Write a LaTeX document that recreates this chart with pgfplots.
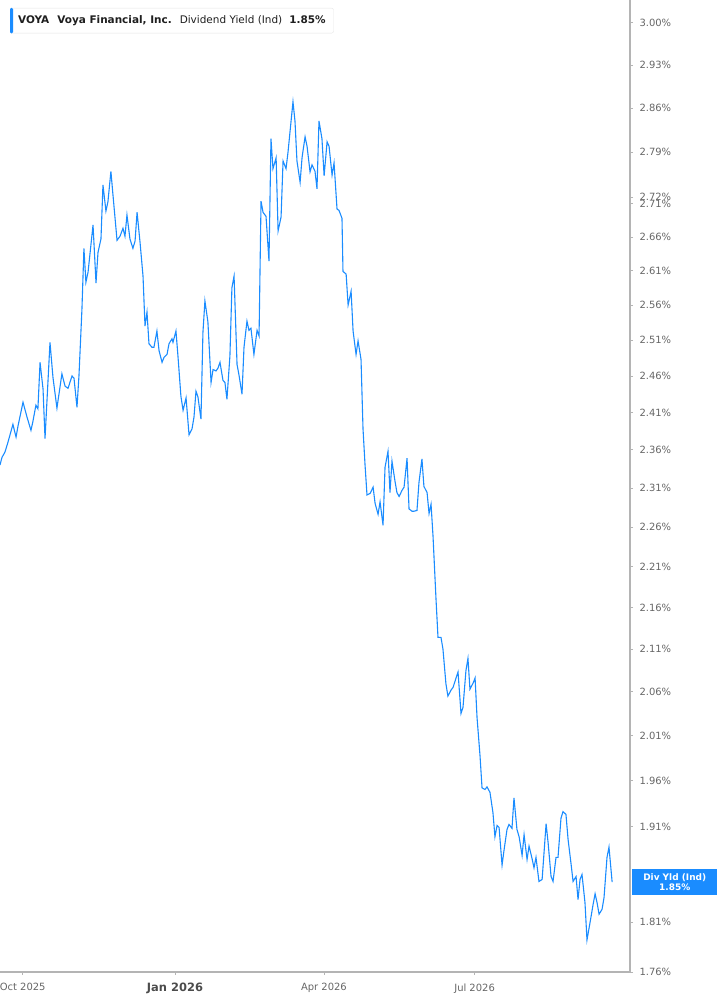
\documentclass[border=0pt]{standalone}
\usepackage{fontspec}
\setmainfont{DejaVu Sans}
\usepackage{pgfplots}
\usepackage{pgfplotstable}
\pgfplotsset{compat=1.18}

\definecolor{lineblue}{HTML}{1A8CFF}
\definecolor{axisgray}{HTML}{B4B4B4}
\definecolor{labgray}{HTML}{666666}

% x = days since 1 Oct 2025, y = dividend yield in %
\pgfplotstableread{
d y
-13.7 2.340
-12.5 2.350
-10.7 2.357
-8.9 2.370
-5.9 2.394
-4.0 2.377
-2.8 2.392
0.2 2.424
2.6 2.404
5.0 2.386
6.1 2.397
8.0 2.420
9.2 2.415
10.5 2.479
12.3 2.442
13.5 2.375
16.5 2.507
18.3 2.458
20.7 2.416
23.7 2.463
25.6 2.446
27.4 2.443
29.8 2.460
31.0 2.457
32.8 2.417
34.0 2.460
35.8 2.554
37.0 2.643
38.2 2.593
39.5 2.608
42.5 2.678
44.3 2.592
45.5 2.637
47.3 2.657
48.5 2.739
50.3 2.699
51.5 2.713
53.3 2.760
54.6 2.722
57.0 2.655
58.8 2.661
60.6 2.673
61.8 2.661
63.0 2.693
64.8 2.657
66.6 2.643
67.9 2.654
69.1 2.697
70.9 2.652
72.7 2.602
73.9 2.530
75.1 2.550
76.3 2.505
78.1 2.500
79.3 2.500
81.1 2.523
82.4 2.495
84.2 2.479
85.4 2.486
87.2 2.490
88.4 2.505
90.2 2.512
90.8 2.507
92.6 2.523
93.8 2.488
95.6 2.432
96.9 2.413
98.7 2.430
100.5 2.380
102.3 2.388
103.5 2.404
104.7 2.439
105.9 2.431
107.7 2.401
108.9 2.521
110.1 2.566
111.9 2.536
113.8 2.451
115.0 2.469
116.8 2.467
118.0 2.471
119.2 2.479
121.0 2.454
122.2 2.451
123.4 2.428
125.2 2.488
126.4 2.585
127.7 2.602
129.5 2.476
130.7 2.461
132.5 2.435
133.7 2.500
135.5 2.537
136.7 2.524
137.9 2.527
139.7 2.490
141.6 2.524
142.8 2.516
144.0 2.714
145.2 2.697
147.0 2.691
148.8 2.624
150.0 2.811
151.2 2.764
153.1 2.781
154.3 2.669
156.1 2.690
157.3 2.776
159.1 2.764
160.3 2.790
162.1 2.838
163.3 2.870
164.5 2.839
165.7 2.776
167.6 2.743
168.8 2.782
170.6 2.814
171.8 2.799
173.6 2.759
174.8 2.770
176.6 2.760
177.8 2.733
179.0 2.839
180.8 2.811
182.1 2.753
183.9 2.806
185.1 2.799
186.9 2.754
188.1 2.773
189.9 2.702
191.1 2.700
192.9 2.688
193.5 2.609
195.4 2.605
196.6 2.560
198.4 2.580
199.6 2.523
201.4 2.490
202.6 2.509
204.4 2.483
205.6 2.388
206.8 2.341
208.0 2.301
209.9 2.303
211.7 2.311
212.9 2.290
214.7 2.276
215.9 2.292
217.7 2.262
218.9 2.337
220.7 2.358
221.9 2.304
223.1 2.345
224.9 2.319
226.1 2.304
227.4 2.299
229.2 2.307
230.4 2.311
232.2 2.349
233.4 2.283
235.2 2.280
236.4 2.280
238.2 2.281
239.4 2.317
241.2 2.348
242.4 2.312
244.3 2.304
245.5 2.277
246.7 2.289
247.9 2.248
249.7 2.170
250.9 2.124
252.7 2.124
253.9 2.110
255.7 2.069
256.9 2.055
258.8 2.062
260.0 2.065
261.8 2.076
263.0 2.083
264.8 2.035
266.0 2.042
267.8 2.085
269.0 2.099
270.2 2.063
272.1 2.070
273.3 2.076
274.5 2.030
276.3 1.987
277.5 1.952
279.3 1.950
280.5 1.953
282.3 1.947
284.1 1.925
285.3 1.899
286.6 1.911
287.8 1.909
289.6 1.869
290.8 1.885
292.6 1.907
293.8 1.912
295.6 1.908
296.8 1.941
298.6 1.907
299.9 1.899
301.7 1.879
302.9 1.901
304.7 1.875
305.9 1.889
307.7 1.876
308.9 1.866
310.1 1.877
311.9 1.852
313.8 1.854
316.2 1.913
317.4 1.893
319.2 1.857
320.4 1.852
322.2 1.877
323.4 1.877
325.2 1.919
326.4 1.926
328.2 1.923
329.5 1.896
331.3 1.870
332.5 1.852
334.3 1.857
335.5 1.833
336.7 1.854
337.9 1.859
339.7 1.830
340.9 1.792
342.8 1.810
344.6 1.828
345.8 1.839
347.0 1.830
348.2 1.818
350.0 1.823
351.2 1.835
353.0 1.877
354.2 1.888
356.1 1.851
}\voya

\begin{document}
\begin{tikzpicture}
\begin{axis}[
  at={(0,33bp)}, anchor=south west,
  scale only axis, width=630bp, height=972bp,
  xmin=-13.7, xmax=366.9,
  ymode=log, ymin=1.76, ymax=3.039,
  axis x line*=bottom, axis y line*=right,
  axis line style={-, draw=axisgray, line width=1.3bp},
  tick align=outside, major tick length=3bp,
  tick style={axisgray, line width=0.8bp},
  xtick={0,92,182,273},
  xticklabels={Oct 2025,{\fontsize{11.5}{13}\selectfont\bfseries\color{black!70}Jan 2026},Apr 2026,Jul 2026},
  ytick={1.76,1.81,1.91,1.96,2.01,2.06,2.11,2.16,2.21,2.26,2.31,2.36,2.41,2.46,2.51,2.56,2.61,2.66,2.71,2.72,2.79,2.86,2.93,3.00},
  yticklabels={1.76\%,1.81\%,1.91\%,1.96\%,2.01\%,2.06\%,2.11\%,2.16\%,2.21\%,2.26\%,2.31\%,2.36\%,2.41\%,2.46\%,2.51\%,2.56\%,2.61\%,2.66\%,2.71\%,2.72\%,2.79\%,2.86\%,2.93\%,3.00\%},
  ticklabel style={font=\fontsize{10}{12}\selectfont, text=labgray},
  xticklabel style={yshift=-5bp},
  yticklabel style={xshift=3bp},
  clip mode=individual,
]
\addplot[lineblue, line width=1.1bp] table[x=d, y=y]{\voya};

\node[anchor=north west, draw=black!10, fill=white, rounded corners=2bp,
      inner xsep=8bp, minimum height=25bp, font=\fontsize{10.5}{12}\selectfont, text=black!88]
  (leg) at ([xshift=10bp,yshift=-8bp]rel axis cs:0,1)
  {\textbf{VOYA}\hspace{8bp}\textbf{Voya Financial, Inc.}\hspace{8bp}Dividend Yield (Ind)\hspace{7bp}\textbf{1.85\%}};
\fill[lineblue, rounded corners=1.2bp] (leg.north west) rectangle ([xshift=3bp]leg.south west);

\node[fill=lineblue, text=white, anchor=west, align=center, inner sep=0pt,
      minimum width=85bp, minimum height=26bp, font=\fontsize{9}{10.5}\selectfont\bfseries]
  at ([xshift=2bp]axis cs:366.9,1.851) {Div Yld (Ind)\\1.85\%};
\end{axis}
\pgfresetboundingbox
\path (0,0) rectangle (717bp,1005bp);
\end{tikzpicture}
\end{document}
